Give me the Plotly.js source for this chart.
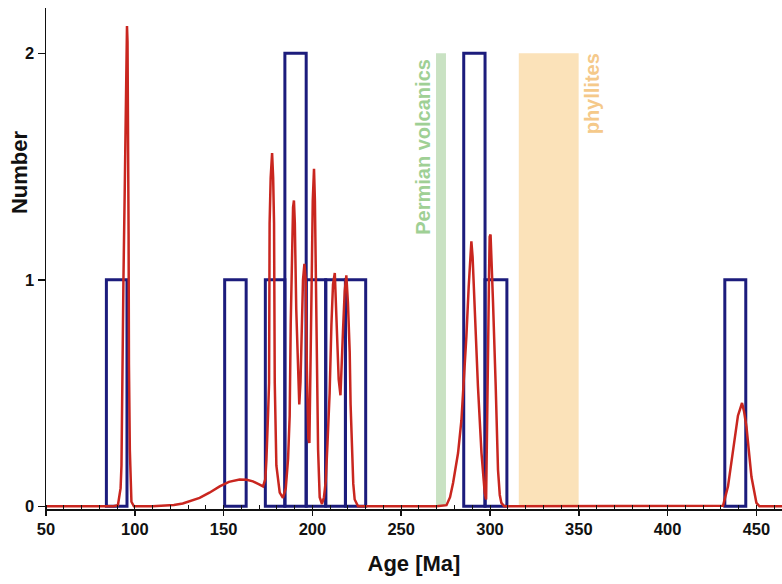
<!DOCTYPE html>
<html>
<head>
<meta charset="utf-8">
<script src="https://cdn.plot.ly/plotly-3.0.1.min.js"></script>
<style>html,body{margin:0;padding:0;background:#fff;}#chart{width:782px;height:584px;}</style>
</head>
<body>
<div id="chart"></div>
<script>
// Histogram bins (Ma) and counts
const binLeft  = [84, 150.6, 173.5, 184.5, 196.5, 207.5, 218.6, 285.2, 297.2, 432.2];
const binRight = [95.6, 162.7, 184.5, 196.5, 207.5, 218.6, 230.0, 297.2, 309.5, 444.0];
const binCount = [1, 1, 1, 2, 1, 1, 1, 2, 1, 1];

// Probability density curve
const pdfAge = [50, 88, 90.5, 92, 92.5, 93.0, 93.6, 94.3, 94.9, 95.3, 95.6, 95.9, 96.2, 96.5, 96.7, 97.2, 98.1, 99.5,
  110, 117.8, 122, 127, 132, 136.5, 142, 147.8, 153, 159, 163, 166.5, 170, 172.2,
  173.5, 174.1, 175.0, 175.6, 175.9, 176.5, 177.3, 177.9, 178.4, 178.8, 179.7, 181.6, 183.4,
  185, 186.3, 187.2, 187.8, 188.6, 189.1, 189.6, 190.1, 190.9, 191.9, 192.6, 193.3, 194.0, 194.7, 195.5, 196.2, 196.9, 197.7, 198.3,
  199.0, 199.6, 200.2, 200.9, 201.4, 201.8, 202.3, 203.2, 204.1, 205.4,
  206.5, 207.5, 208.5, 209.7, 210.7, 211.6, 212.6, 213.3, 213.9, 214.8, 215.8, 216.5, 217.2, 218.2, 219.1, 220, 221, 221.5, 222, 223, 223.8, 225.7,
  240, 270, 275.5, 277.5, 279.2, 282, 283.9, 285.2, 286.7, 288, 289, 289.5, 290.2, 291.4, 293.2, 295.2, 297, 297.8,
  298.3, 298.9, 299.4, 299.8, 300.3, 300.9, 301.7, 303.2, 304.5, 305.5, 306.4, 308,
  430, 431.2, 434, 436.8, 439.6, 441.9, 443, 444.4, 447.2, 450, 451.7, 464.4];
const pdfValue = [0, 0, 0.005, 0.08, 0.18, 0.63, 1.0, 1.38, 1.82, 2.03, 2.12, 2.05, 1.8, 1.2, 0.63, 0.25, 0.02, 0,
  0, 0.002, 0.006, 0.012, 0.024, 0.037, 0.06, 0.088, 0.108, 0.118, 0.117, 0.11, 0.097, 0.088,
  0.12, 0.206, 0.4, 0.544, 1.25, 1.45, 1.56, 1.45, 1.25, 0.544, 0.18, 0.06, 0.037,
  0.08, 0.21, 0.4, 0.81, 1.19, 1.32, 1.35, 1.25, 0.87, 0.55, 0.45, 0.55, 0.8, 1.0, 1.07, 1.0, 0.6, 0.3, 0.28,
  0.6, 1.0, 1.35, 1.49, 1.35, 1.1, 0.91, 0.25, 0.04, 0.01,
  0.04, 0.11, 0.28, 0.5, 0.8, 0.98, 1.03, 0.9, 0.72, 0.56, 0.49, 0.6, 0.77, 0.95, 1.02, 0.9, 0.68, 0.45, 0.3, 0.1, 0.03, 0,
  0, 0, 0.005, 0.04, 0.103, 0.235, 0.38, 0.53, 0.75, 0.97, 1.12, 1.17, 1.1, 0.85, 0.53, 0.235, 0.06, 0.03,
  0.25, 0.68, 1.0, 1.19, 1.2, 1.1, 0.9, 0.53, 0.16, 0.05, 0.015, 0,
  0, 0.002, 0.088, 0.235, 0.4, 0.456, 0.42, 0.35, 0.13, 0.015, 0, 0];

// Reference age bands
const bandNames = ["Permian volcanics", "phyllites"];
const bandFrom  = [269.6, 316.2];
const bandTo    = [275.2, 349.9];
const bandTop   = [2, 2];

const xTickVals = [50, 100, 150, 200, 250, 300, 350, 400, 450];
const yTickVals = [0, 1, 2];

const NAVY = '#1c1c7c';
const RED = '#c9261f';
const bandFill = ['#c9e2c3', '#fbe2b9'];
const bandText = ['#9fd095', '#f5c98a'];

const barX = binLeft.map((l, i) => (l + binRight[i]) / 2);
const barW = binLeft.map((l, i) => binRight[i] - l);

const traces = [
  {
    type: 'bar', x: barX, y: binCount, width: barW, base: 0,
    marker: {color: 'rgba(0,0,0,0)', line: {color: NAVY, width: 3}},
    hoverinfo: 'skip', showlegend: false
  },
  {
    type: 'scatter', mode: 'lines', x: pdfAge, y: pdfValue,
    line: {color: RED, width: 2.5}, showlegend: false, hoverinfo: 'skip'
  }
];

const shapes = bandNames.map((n, i) => ({
  type: 'rect', xref: 'x', yref: 'y', x0: bandFrom[i], x1: bandTo[i], y0: 0, y1: bandTop[i],
  fillcolor: bandFill[i], line: {width: 0}, layer: 'below'
}));

const font = 'Liberation Sans, Arial, sans-serif';
const annotations = [
  {text: bandNames[0], xref: 'x', yref: 'y', x: 262.3, y: 1.985, textangle: -90,
   xanchor: 'center', yanchor: 'top', showarrow: false,
   font: {family: font, size: 20, color: bandText[0], weight: 'bold'}},
  {text: bandNames[1], xref: 'x', yref: 'y', x: 357.3, y: 2.01, textangle: -90,
   xanchor: 'center', yanchor: 'top', showarrow: false,
   font: {family: font, size: 20, color: bandText[1], weight: 'bold'}},
  {text: 'Number', xref: 'paper', yref: 'paper', x: -0.035, y: 0.673, textangle: -90,
   xanchor: 'center', yanchor: 'middle', showarrow: false,
   font: {family: font, size: 22, color: '#111', weight: 'bold'}}
];

const layout = {
  width: 782, height: 584,
  margin: {l: 46, r: 0, t: 8, b: 75},
  paper_bgcolor: '#fff', plot_bgcolor: '#fff',
  showlegend: false, barmode: 'overlay',
  font: {family: font, color: '#111'},
  xaxis: {
    range: [50, 464.4], showgrid: false, zeroline: false,
    showline: true, linecolor: '#111', linewidth: 1.5,
    tickmode: 'array', tickvals: xTickVals, ticktext: xTickVals.map(String),
    ticks: 'outside', ticklen: 5, tickwidth: 1.5, tickcolor: '#111',
    minor: {ticks: 'inside', dtick: 10, tick0: 50, ticklen: 4, tickwidth: 1, tickcolor: '#111', showgrid: false},
    tickfont: {family: font, size: 16.5, color: '#111', weight: 'bold'},
    title: {text: 'Age [Ma]', standoff: 18, font: {family: font, size: 22, color: '#111', weight: 'bold'}}
  },
  yaxis: {
    range: [-0.012, 2.2], showgrid: false, zeroline: false,
    showline: true, linecolor: '#111', linewidth: 1.5,
    tickmode: 'array', tickvals: yTickVals, ticktext: yTickVals.map(String),
    ticks: 'outside', ticklen: 7, tickwidth: 1.5, tickcolor: '#111',
    tickfont: {family: font, size: 16.5, color: '#111', weight: 'bold'}
  },
  shapes: shapes,
  annotations: annotations
};

Plotly.newPlot('chart', traces, layout, {displayModeBar: false, staticPlot: true});
</script>
</body>
</html>
